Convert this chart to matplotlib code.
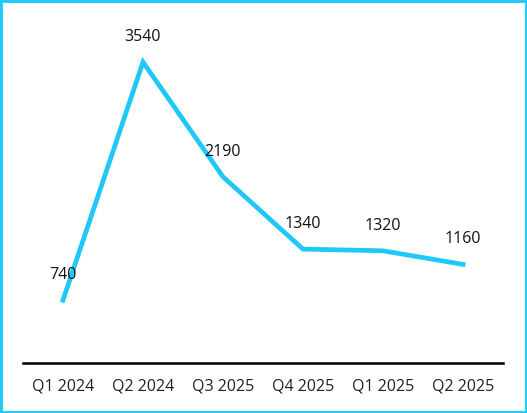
import matplotlib
matplotlib.use("Agg")
import matplotlib.pyplot as plt
from matplotlib.patches import Rectangle

categories = ["Q1 2024", "Q2 2024", "Q3 2025", "Q4 2025", "Q1 2025", "Q2 2025"]
values = [740, 3540, 2190, 1340, 1320, 1160]

plt.rcParams['font.family'] = ['Open Sans', 'DejaVu Sans']
color = "#1EC8F8"

fig = plt.figure(figsize=(5.27, 4.13), dpi=100)
ax = fig.add_axes([23/527, 50/413, 480/527, 340/413])
x = list(range(len(categories)))
ax.plot(x, values, color=color, lw=3.4, solid_joinstyle='miter')
for xi, v in zip(x, values):
    ax.annotate(f"{v}", (xi, v), xytext=(0, 18), textcoords='offset points',
                ha='center', va='center', fontsize=11.5, color='#111111')
ax.set_xlim(-0.5, len(categories) - 0.5)
ax.set_ylim(0, 4000)
ax.set_xticks(x)
ax.set_xticklabels(categories, fontsize=11.5, color='#222222')
ax.tick_params(axis='x', length=0, pad=11)
ax.set_yticks([])
for s in ['top', 'right', 'left']:
    ax.spines[s].set_visible(False)
ax.spines['bottom'].set_linewidth(1.8)
ax.spines['bottom'].set_color('black')

fig.patches.append(Rectangle((0, 0), 1, 1, transform=fig.transFigure, fill=False,
                             edgecolor=color, lw=3.5))
fig.savefig("out.png", dpi=100)
